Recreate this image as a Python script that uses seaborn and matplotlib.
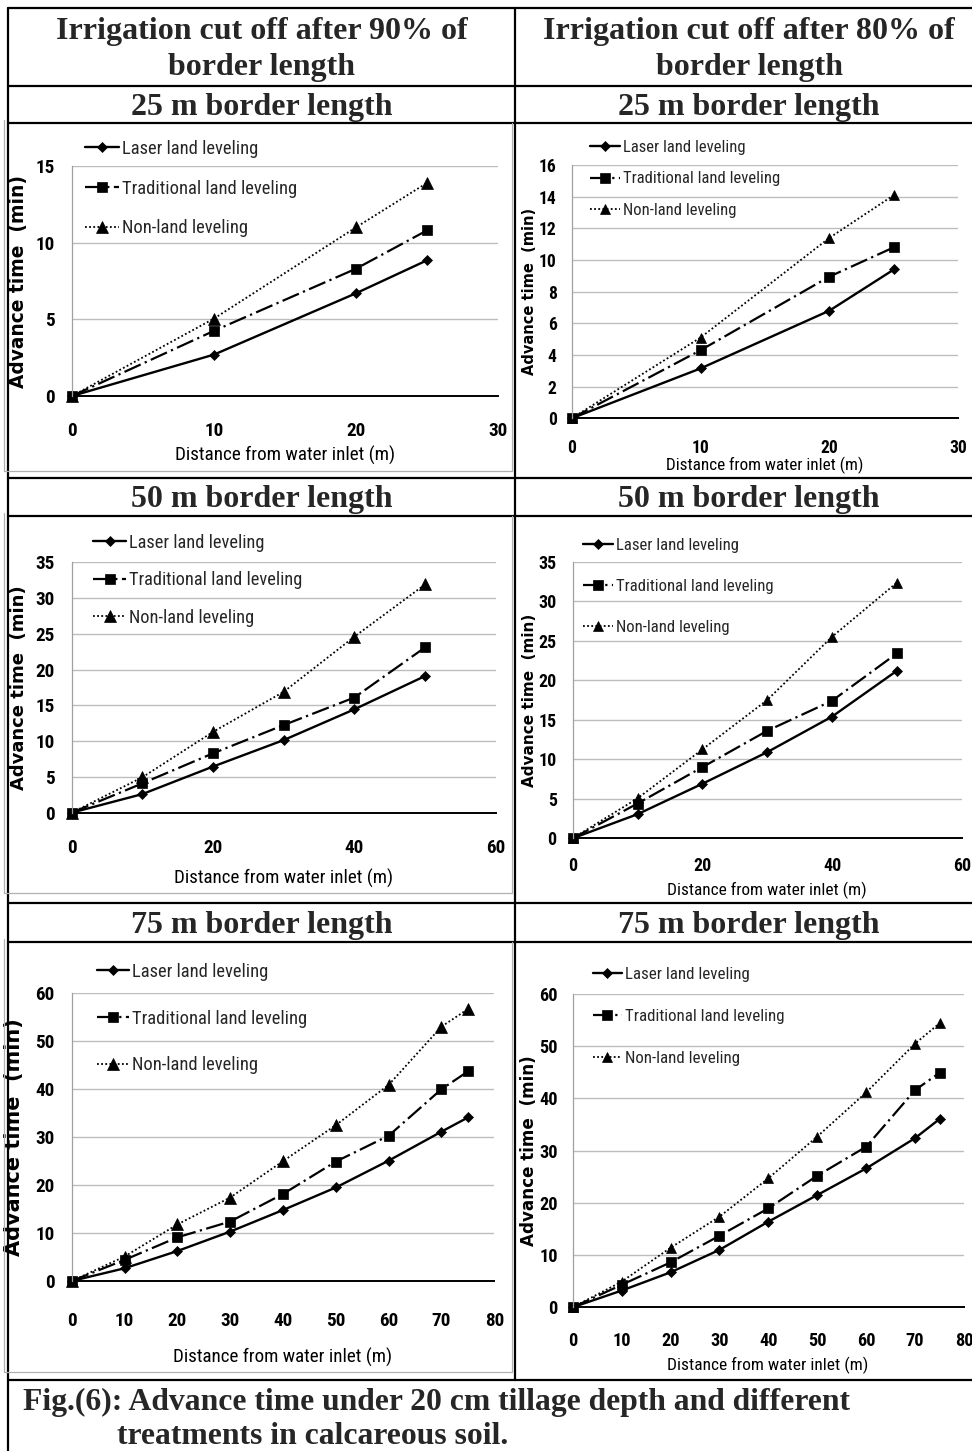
import matplotlib
matplotlib.use("Agg")
import matplotlib.pyplot as plt
import seaborn as sns
from matplotlib.lines import Line2D
from matplotlib import font_manager

# ---------------- data ----------------
series_names = ["Laser land leveling", "Traditional land leveling", "Non-land leveling"]

x25 = [0, 10, 20, 25]
x50 = [0, 10, 20, 30, 40, 50]
x75 = [0, 10, 20, 30, 40, 50, 60, 70, 75]

cut90_25_laser = [0, 2.7, 6.7, 8.85]
cut90_25_trad = [0, 4.25, 8.3, 10.8]
cut90_25_non = [0, 5.05, 11.0, 13.9]

cut80_25_laser = [0, 3.15, 6.8, 9.4]
cut80_25_trad = [0, 4.3, 8.95, 10.8]
cut80_25_non = [0, 5.1, 11.4, 14.1]

cut90_50_laser = [0, 2.6, 6.45, 10.15, 14.45, 19.1]
cut90_50_trad = [0, 4.1, 8.3, 12.25, 16.1, 23.1]
cut90_50_non = [0, 4.95, 11.3, 16.9, 24.6, 31.9]

cut80_50_laser = [0, 3.05, 6.9, 10.9, 15.4, 21.2]
cut80_50_trad = [0, 4.4, 9.0, 13.6, 17.4, 23.4]
cut80_50_non = [0, 5.05, 11.25, 17.5, 25.5, 32.35]

cut90_75_laser = [0, 2.65, 6.25, 10.3, 14.8, 19.5, 25.1, 31.15, 34.1]
cut90_75_trad = [0, 4.4, 9.1, 12.4, 18.15, 24.9, 30.3, 40.0, 43.7]
cut90_75_non = [0, 5.1, 11.8, 17.4, 25.0, 32.5, 40.9, 53.05, 56.7]

cut80_75_laser = [0, 3.2, 6.7, 11.0, 16.4, 21.5, 26.6, 32.4, 36.05]
cut80_75_trad = [0, 4.3, 8.6, 13.7, 18.95, 25.2, 30.75, 41.6, 44.9]
cut80_75_non = [0, 4.9, 11.4, 17.35, 24.7, 32.7, 41.15, 50.5, 54.4]

header_left = ["Irrigation cut off after 90% of", "border length"]
header_right = ["Irrigation cut off after 80% of", "border length"]
row_titles = ["25 m border length", "50 m border length", "75 m border length"]
caption_1 = "Fig.(6): Advance time under 20 cm tillage depth and different"
caption_2 = "treatments in calcareous soil."
xlabel_text = "Distance from water inlet (m)"
ylabel_text = "Advance time  (min)"

# ---------------- fonts ----------------
sns.set_theme(style="white")
fm = font_manager.fontManager
installed = {f.name for f in fm.ttflist}
NARROW, NSTRETCH, NSCALE = None, "normal", 1.0
for name, sc in [("Liberation Sans Narrow", 1.0), ("Arial Narrow", 1.0),
                 ("Roboto Condensed", 0.95), ("Noto Sans Condensed", 0.93),
                 ("Open Sans Condensed", 0.95), ("DejaVu Sans Condensed", 0.85)]:
    if name in installed:
        NARROW, NSCALE = name, sc
        break
if NARROW is None:
    for f in fm.ttflist:
        if f.name in ("Noto Sans", "Roboto", "Open Sans") and f.stretch in (
                "condensed", "semi-condensed", "extra-condensed", 500, 400, 300, 200):
            NARROW, NSTRETCH, NSCALE = f.name, "condensed", 0.93
            break
if NARROW is None:
    NARROW, NSCALE = "Liberation Sans", 0.9
plt.rcParams["font.family"] = [NARROW, "DejaVu Sans"]
plt.rcParams["font.stretch"] = NSTRETCH
SERIF = ["Liberation Serif", "DejaVu Serif"]

W, H = 972, 1451
fig = plt.figure(figsize=(W / 100, H / 100), dpi=100)
fig.patch.set_facecolor("white")


def fx(x):
    return x / W


def fy(y):
    return 1 - y / H


def hline(y, x0, x1, color="black", lw=1.6):
    fig.add_artist(Line2D([fx(x0), fx(x1)], [fy(y), fy(y)], color=color, lw=lw))


def vline(x, y0, y1, color="black", lw=1.6):
    fig.add_artist(Line2D([fx(x), fx(x)], [fy(y0), fy(y1)], color=color, lw=lw))


# ---------------- table frame ----------------
for y in [8, 86, 123, 478, 516, 903, 942, 1380]:
    hline(y, 8, 972)
vline(8, 8, 1451)
vline(515, 8, 1380)

for (t, b) in [(123, 471), (516, 893), (942, 1372)]:
    vline(4, t - 3, b, color="#b0b0b0", lw=0.9)
    hline(b, 4, 512, color="#b0b0b0", lw=0.9)
    vline(512, t, b, color="#b0b0b0", lw=0.9)

hdr = dict(ha="center", va="center", family=SERIF, fontweight="bold", fontsize=23)
for xc, lines in [(262, header_left), (749, header_right)]:
    fig.text(fx(xc), fy(31), lines[0], **hdr)
    fig.text(fx(xc), fy(68), lines[1], **hdr)
for yc, title in zip([107.5, 500, 925.5], row_titles):
    fig.text(fx(262), fy(yc), title, **hdr)
    fig.text(fx(749), fy(yc), title, **hdr)
cap = dict(ha="left", va="baseline", family=SERIF, fontweight="bold", fontsize=22.8)
fig.text(fx(23), fy(1410), caption_1, **cap)
fig.text(fx(117), fy(1444), caption_2, **cap)

# ---------------- panels ----------------
panels = [
    dict(xs=x25, ys=(cut90_25_laser, cut90_25_trad, cut90_25_non), box=(72, 498, 396, 166),
         xmax=30, xstep=10, ymax=15, ystep=5, tick_fs=14.5, xt_off=37, yt_off=17,
         leg_rows=(146, 185, 225), leg_x=(85, 122), leg_fs=14, xl=(285, 453, 14.5),
         yl=(19, 13.4), ms=1.0),
    dict(xs=x25, ys=(cut80_25_laser, cut80_25_trad, cut80_25_non), box=(571.7, 958.3, 418.3, 165),
         xmax=30, xstep=10, ymax=16, ystep=2, tick_fs=13.3, xt_off=30, yt_off=15,
         leg_rows=(145, 178, 210), leg_x=(590, 623), leg_fs=12.6, xl=(765, 463, 13.0),
         yl=(529, 10.5), ms=0.9),
    dict(xs=x50, ys=(cut90_50_laser, cut90_50_trad, cut90_50_non), box=(71.7, 495.7, 812.7, 562.3),
         xmax=60, xstep=20, ymax=35, ystep=5, tick_fs=14.5, xt_off=37, yt_off=17,
         leg_rows=(540, 577, 614), leg_x=(93, 129), leg_fs=13.9, xl=(284, 876, 14.4),
         yl=(19, 13.0), ms=1.0),
    dict(xs=x50, ys=(cut80_50_laser, cut80_50_trad, cut80_50_non), box=(572.7, 961.7, 838.3, 561.7),
         xmax=60, xstep=20, ymax=35, ystep=5, tick_fs=13.6, xt_off=29, yt_off=16,
         leg_rows=(543, 584, 627), leg_x=(583, 616), leg_fs=12.7, xl=(767, 888, 13.1),
         yl=(529, 11.0), ms=0.9),
    dict(xs=x75, ys=(cut90_75_laser, cut90_75_trad, cut90_75_non), box=(71.7, 494.3, 1281, 993.3),
         xmax=80, xstep=10, ymax=60, ystep=10, tick_fs=14.5, xt_off=42, yt_off=17,
         leg_rows=(969, 1015, 1062), leg_x=(97, 132), leg_fs=14, xl=(283, 1355, 14.4),
         yl=(14, 15.0), ms=1.0),
    dict(xs=x75, ys=(cut80_75_laser, cut80_75_trad, cut80_75_non), box=(572.7, 964, 1307.3, 994),
         xmax=80, xstep=10, ymax=60, ystep=10, tick_fs=13.8, xt_off=34.5, yt_off=15,
         leg_rows=(972.7, 1016, 1059), leg_x=(592.7, 625), leg_fs=12.8, xl=(768, 1363, 13.2),
         yl=(529, 12.1), ms=0.9),
]

styles = [
    dict(marker="D", ms=5.2, linestyle="-", lw=1.7),
    dict(marker="s", ms=7.5, linestyle=(0, (8, 2, 1, 2)), lw=1.6),
    dict(marker="^", ms=8.0, linestyle=(0, (1, 1.3)), lw=1.3),
]

for p in panels:
    x0, x1, yb, yt = p["box"]
    ax = fig.add_axes([fx(x0), fy(yb), (x1 - x0) / W, (yb - yt) / H])
    for ys, name, st in zip(p["ys"], series_names, styles):
        sns.lineplot(x=p["xs"], y=ys, ax=ax, color="black", marker=st["marker"],
                     markersize=st["ms"] * p["ms"], markeredgecolor="black",
                     markerfacecolor="black", markeredgewidth=0.5,
                     linestyle=st["linestyle"], linewidth=st["lw"], label=name,
                     clip_on=False, legend=False)
    ax.set_xlim(0, p["xmax"])
    ax.set_ylim(0, p["ymax"])
    ax.set_xticks(range(0, p["xmax"] + 1, p["xstep"]))
    ax.set_yticks(range(0, p["ymax"] + 1, p["ystep"]))
    ax.yaxis.grid(True, color="#bdbdbd", lw=1.0)
    ax.xaxis.grid(False)
    ax.set_axisbelow(True)
    for s in ["top", "right"]:
        ax.spines[s].set_visible(False)
    ax.spines["left"].set_color("#a0a0a0")
    ax.spines["left"].set_linewidth(0.9)
    ax.spines["bottom"].set_color("black")
    ax.spines["bottom"].set_linewidth(1.4)
    ax.spines["bottom"].set_zorder(1.5)

    tfs = p["tick_fs"] * NSCALE
    tfs_px = tfs * 100 / 72
    xpad = (p["xt_off"] - 0.55 * tfs_px) * 0.72
    ax.tick_params(axis="x", length=0, pad=xpad, labelsize=tfs)
    ax.tick_params(axis="y", length=0, pad=p["yt_off"] * 0.72, labelsize=tfs)
    for lab in ax.get_xticklabels() + ax.get_yticklabels():
        lab.set_fontweight("bold")
        lab.set_color("black")

    xcx, xcy, xfs = p["xl"]
    ax.set_xlabel(xlabel_text, fontsize=xfs * NSCALE, color="black")
    ax.xaxis.label.set_va("center")
    ax.xaxis.set_label_coords((xcx - x0) / (x1 - x0), (yb - xcy - 2) / (yb - yt))
    ycx, yfs = p["yl"]
    ax.set_ylabel(ylabel_text, fontsize=yfs, fontweight="bold", family="DejaVu Sans",
                  color="black")
    ax.yaxis.label.set_va("center")
    ax.yaxis.set_label_coords((ycx - x0) / (x1 - x0), 0.5)

    lfs_pt = p["leg_fs"] * NSCALE
    lfs_px = lfs_pt * 100 / 72
    rows = p["leg_rows"]
    spacing = (rows[2] - rows[0]) / 2
    hx, tx = p["leg_x"]
    handles, labels = ax.get_legend_handles_labels()
    ax.legend(handles, labels, loc="upper left", frameon=False,
              bbox_to_anchor=(fx(hx), fy(rows[0] - 0.55 * lfs_px + 4)),
              bbox_transform=fig.transFigure, borderpad=0, borderaxespad=0,
              prop={"family": [NARROW, "DejaVu Sans"], "size": lfs_pt, "stretch": NSTRETCH},
              handlelength=(tx - hx - 3) / lfs_px, handletextpad=3 / lfs_px,
              labelspacing=(spacing - 0.96 * lfs_px) / lfs_px, numpoints=1)

fig.savefig("out.png", dpi=100, facecolor="white")
